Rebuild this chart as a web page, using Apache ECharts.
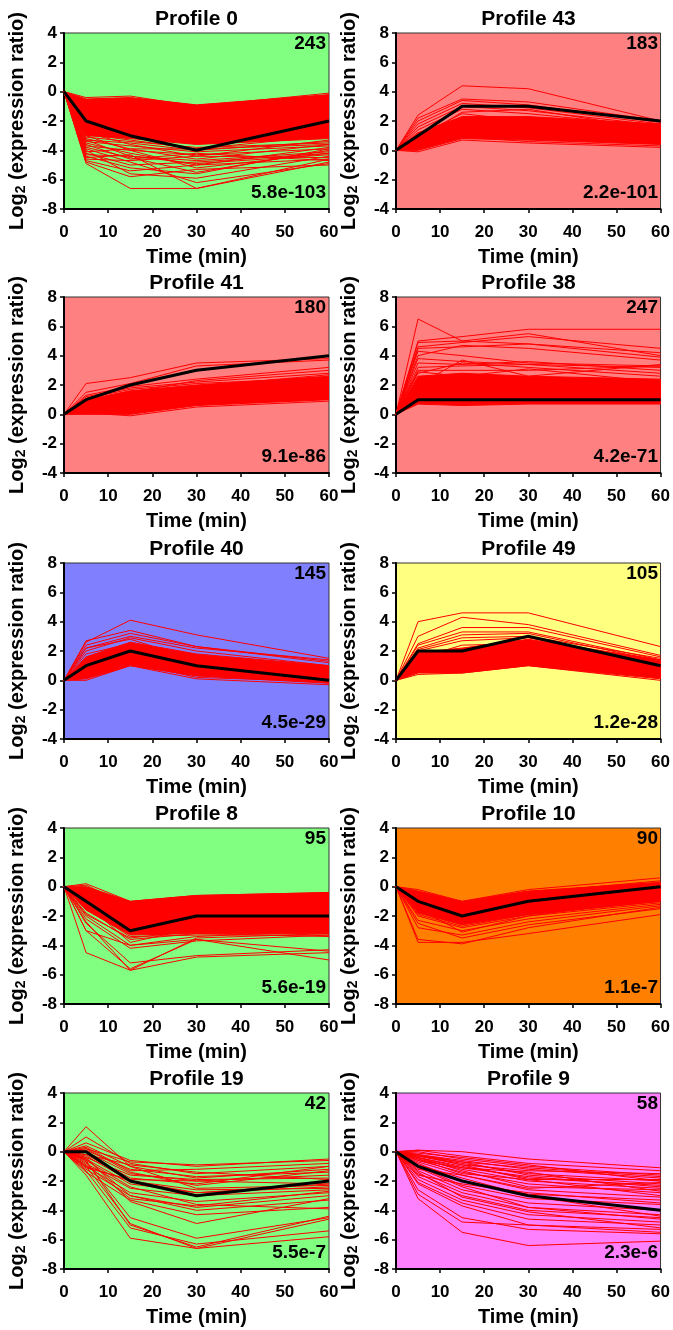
<!DOCTYPE html>
<html>
<head>
<meta charset="utf-8">
<script src="https://cdn.jsdelivr.net/npm/echarts@6/dist/echarts.min.js"></script>
<style>
html,body{margin:0;padding:0;background:#fff;}
#chart{width:673px;height:1330px;}
</style>
</head>
<body>
<div id="chart"></div>
<script>
// ---------------- DATA ----------------
const TIMES = [0, 5, 15, 30, 60];

const TITLES = ['Profile 0','Profile 43','Profile 41','Profile 38','Profile 40','Profile 49','Profile 8','Profile 10','Profile 19','Profile 9'];
const COUNTS = ['243','183','180','247','145','105','95','90','42','58'];
const PVALUES = ['5.8e-103','2.2e-101','9.1e-86','4.2e-71','4.5e-29','1.2e-28','5.6e-19','1.1e-7','5.5e-7','2.3e-6'];
const Y_MIN = [-8,-4,-4,-4,-4,-4,-8,-8,-8,-8];
const Y_MAX = [4,8,8,8,8,8,4,4,4,4];
const X_TICK_LABELS = ['0','10','20','30','40','50','60'];

// Profile 0
const P0_MODEL = [0,-2,-3,-4,-2];
const P0_CORE_LOW = [0,-3.0,-3.2,-3.6,-3.2];
const P0_CORE_HIGH = [0,-0.5,-0.4,-0.9,-0.2];
const P0_GENES = [
  [0,-4.9,-6.6,-6.6,-4.8],[0,-4.8,-5.8,-5.3,-5.0],[0,-4.5,-4.3,-6.6,-4.6],[0,-4.0,-5.6,-5.9,-4.4],
  [0,-4.2,-5.0,-4.8,-4.2],[0,-3.8,-4.5,-5.5,-4.0],[0,-3.5,-4.2,-5.0,-3.8],[0,-4.6,-4.7,-4.4,-4.5],
  [0,-3.9,-4.8,-6.2,-4.9],[0,-3.2,-3.9,-4.6,-3.6],[0,-3.0,-4.0,-5.2,-4.2],[0,-2.8,-3.6,-4.4,-3.3],
  [0,-0.4,-0.3,-1.0,-0.1],[0,-4.4,-5.2,-5.6,-3.9],[0,-3.6,-4.6,-4.2,-4.7],[0,-4.1,-3.9,-3.9,-3.6],
  [0,-3.3,-3.5,-4.0,-3.4],[0,-3.4,-3.7,-4.1,-3.7],[0,-3.7,-4.0,-4.3,-3.9],[0,-4.3,-4.4,-4.9,-4.3],
  [0,-3.1,-3.4,-3.8,-3.5],[0,-4.7,-5.4,-5.0,-4.6],[0,-3.3,-4.4,-4.7,-4.1],[0,-2.9,-3.3,-3.9,-3.0]
];
// Profile 43
const P43_MODEL = [0,1,3,3,2];
const P43_CORE_LOW = [0,0.0,0.8,0.7,0.4];
const P43_CORE_HIGH = [0,1.2,2.3,2.3,1.8];
const P43_GENES = [
  [0,2.4,4.4,4.2,2.0],[0,2.2,3.5,3.3,2.0],[0,2.0,3.4,3.1,1.9],[0,1.8,3.2,2.9,1.8],
  [0,1.6,3.0,2.7,1.7],[0,1.4,2.8,2.5,1.6],[0,-0.1,0.7,0.5,0.2],[0,0.3,0.9,0.6,0.3],
  [0,0.8,2.6,2.8,1.4],[0,1.0,2.5,2.0,1.0],[0,0.5,1.5,1.9,0.8],[0,1.2,2.0,1.0,0.6]
];
// Profile 41
const P41_MODEL = [0,1,2,3,4];
const P41_CORE_LOW = [0,0.0,0.0,0.6,1.0];
const P41_CORE_HIGH = [0,1.0,1.6,2.0,2.6];
const P41_GENES = [
  [0,2.1,2.5,3.5,3.8],[0,1.5,2.1,3.3,3.7],[0,1.3,1.9,2.4,3.2],[0,1.2,1.8,2.2,2.8],
  [0,1.1,1.7,2.1,2.5],[0,0.9,1.5,2.3,3.0],[0,0.6,1.2,1.9,2.7],[0,0.1,-0.1,0.5,0.9],
  [0,0.3,0.5,1.0,1.4],[0,0.8,1.0,1.6,2.2]
];
// Profile 38
const P38_MODEL = [0,1,1,1,1];
const P38_CORE_LOW = [0,0.7,0.6,0.7,0.7];
const P38_CORE_HIGH = [0,2.6,2.8,2.6,2.4];
const P38_GENES = [
  [0,6.5,5.0,4.8,3.9],[0,5.0,5.3,5.8,5.8],[0,4.9,5.0,5.5,4.0],[0,4.6,4.9,5.3,4.5],
  [0,4.5,4.6,4.8,4.2],[0,4.3,4.0,3.5,3.3],[0,3.8,3.6,3.4,3.2],[0,3.5,3.4,3.6,3.0],
  [0,3.2,3.3,3.4,2.8],[0,3.0,3.0,3.0,3.3],[0,2.8,3.5,3.2,2.6],[0,2.9,2.6,3.1,2.2],
  [0,4.0,4.7,4.5,3.7],[0,2.0,3.7,2.6,3.4]
];
// Profile 40
const P40_MODEL = [0,1,2,1,0];
const P40_CORE_LOW = [0,0.1,1.0,0.3,-0.2];
const P40_CORE_HIGH = [0,1.6,2.6,1.8,1.0];
const P40_GENES = [
  [0,2.6,4.1,3.1,1.5],[0,2.7,3.4,2.3,1.3],[0,2.4,3.2,2.3,1.2],[0,2.2,3.0,2.2,1.4],
  [0,2.0,2.9,2.0,1.0],[0,1.8,2.5,1.6,0.9],[0,0.0,1.0,0.1,-0.3],[0,0.4,1.2,0.2,-0.1],
  [0,2.2,2.8,1.4,0.6],[0,1.2,2.2,0.8,0.2]
];
// Profile 49
const P49_MODEL = [0,2,2,3,1];
const P49_CORE_LOW = [0,0.5,0.5,1.0,0.1];
const P49_CORE_HIGH = [0,1.9,2.2,2.8,1.4];
const P49_GENES = [
  [0,4.0,4.6,4.6,2.3],[0,3.0,4.3,3.8,1.7],[0,2.5,3.6,3.6,1.6],[0,2.4,3.3,3.3,1.4],
  [0,2.2,3.1,3.2,1.3],[0,2.1,2.9,3.0,1.5],[0,2.0,2.7,2.9,1.2],[0,0.4,0.5,1.0,0.0],
  [0,1.0,0.7,1.9,0.3],[0,1.5,2.4,2.5,0.9],[0,0.9,1.3,1.6,0.6]
];
// Profile 8
const P8_MODEL = [0,-1,-3,-2,-2];
const P8_CORE_LOW = [0,-1.6,-3.3,-3.2,-3.2];
const P8_CORE_HIGH = [0,0.0,-1.0,-0.6,-0.4];
const P8_GENES = [
  [0,-4.5,-5.7,-4.8,-4.5],[0,-3.0,-4.0,-3.6,-5.0],[0,-2.5,-5.2,-4.7,-4.3],[0,-2.4,-5.7,-3.5,-3.2],
  [0,-2.2,-4.2,-3.7,-3.3],[0,-2.0,-4.0,-3.4,-3.0],[0,0.2,-1.0,-0.6,-0.4],[0,0.1,-1.3,-0.8,-0.7],
  [0,-1.2,-3.8,-2.8,-2.8],[0,-1.8,-3.6,-3.2,-3.4],[0,-3.0,-5.6,-3.6,-4.4],
  [0,-1.5,-3.4,-3.3,-3.3],[0,-1.9,-3.5,-3.0,-2.9],[0,-0.8,-2.8,-2.4,-2.6]
];
// Profile 10
const P10_MODEL = [0,-1,-2,-1,0];
const P10_CORE_LOW = [0,-1.8,-2.6,-1.9,-1.0];
const P10_CORE_HIGH = [0,-0.3,-1.0,-0.3,0.3];
const P10_GENES = [
  [0,-3.8,-3.8,-3.2,-1.9],[0,-3.6,-3.9,-2.8,-1.4],[0,-2.8,-3.3,-2.4,-1.3],[0,-2.5,-3.5,-2.6,-1.5],
  [0,-2.3,-3.0,-2.2,-1.2],[0,-2.0,-2.8,-2.0,-1.1],[0,-0.2,-1.0,-0.2,0.6],[0,-0.5,-1.2,-0.4,0.4],
  [0,-1.5,-3.1,-2.0,-0.8],[0,-1.9,-2.7,-1.9,-1.0],[0,-1.4,-2.4,-1.6,-0.6]
];
// Profile 19
const P19_MODEL = [0,0,-2,-3,-2];
const P19_GENES = [
  [0,1.7,-1.0,-2.5,-2.3],[0,1.0,-0.8,-1.5,-1.0],[0,0.6,-0.6,-1.0,-0.5],[0,0.4,-1.0,-1.8,-1.2],
  [0,0.2,-0.7,-0.9,-0.6],[0,0.1,-1.2,-1.7,-1.4],[0,0.0,-1.5,-2.0,-1.6],[0,-0.2,-1.8,-2.2,-1.0],
  [0,-0.3,-2.0,-2.6,-2.5],[0,-0.5,-2.2,-2.8,-2.2],[0,-0.8,-2.5,-3.0,-2.6],[0,-1.0,-2.8,-3.4,-2.8],
  [0,-1.2,-3.0,-3.8,-3.0],[0,-1.4,-3.3,-4.3,-3.8],[0,-0.4,-3.4,-4.9,-3.2],[0,-0.7,-4.5,-5.9,-4.5],
  [0,-1.0,-4.9,-6.6,-4.6],[0,-1.3,-5.2,-6.3,-5.4],[0,-1.6,-5.9,-6.6,-5.8],[0,-0.6,-5.0,-6.5,-4.4],
  [0,-1.0,-2.0,-2.8,-2.4],[0,0.3,-1.3,-1.2,-0.8],[0,-0.4,-1.6,-1.9,-1.8],[0,-0.6,-2.4,-3.6,-3.9],
  [0,-1.1,-1.9,-2.0,-2.2],[0,-0.2,-0.9,-1.4,-1.9],[0,-0.9,-3.2,-3.7,-2.7],[0,0.2,-1.4,-2.3,-1.3],
  [0,-0.5,-3.0,-4.0,-3.3]
];
// Profile 9
const P9_MODEL = [0,-1,-2,-3,-4];
const P9_GENES = [
  [0,0.1,0.0,-0.5,-1.1],[0,0.1,-0.3,-0.8,-1.3],[0,0.0,-0.5,-1.0,-1.6],[0,-0.2,-0.6,-1.2,-1.8],
  [0,-0.3,-0.8,-1.5,-2.0],[0,-0.4,-1.0,-1.8,-2.3],[0,-0.5,-1.2,-2.0,-2.5],[0,-0.6,-1.4,-2.2,-2.8],
  [0,-0.2,-0.9,-1.9,-3.0],[0,-0.7,-1.6,-2.6,-3.1],[0,-1.2,-1.6,-2.5,-2.1],[0,-0.8,-2.0,-2.9,-3.3],
  [0,-1.0,-2.3,-3.2,-3.6],[0,-1.3,-2.6,-3.5,-4.0],[0,-1.5,-2.8,-3.8,-4.3],[0,-1.7,-3.0,-4.0,-4.5],
  [0,-1.9,-3.3,-4.3,-4.8],[0,-2.1,-3.5,-4.6,-5.0],[0,-2.2,-3.7,-5.0,-5.3],[0,-2.6,-4.5,-5.3,-5.6],
  [0,-2.9,-4.8,-5.0,-5.5],[0,-3.2,-5.5,-6.4,-6.1],[0,-1.6,-2.2,-2.8,-3.5],[0,-0.4,-1.3,-2.4,-2.6],
  [0,-0.9,-1.8,-3.0,-4.4],[0,-0.3,-0.7,-1.6,-2.2],[0,-1.1,-2.4,-3.8,-4.6],[0,-0.5,-1.5,-1.9,-1.9],
  [0,-0.1,-0.4,-0.9,-2.0],[0,-1.4,-3.1,-4.1,-5.2],[0,-0.3,-0.9,-1.3,-1.5],[0,-0.6,-1.1,-1.7,-2.4],
  [0,-0.2,-0.7,-1.1,-1.7],[0,-0.4,-1.1,-1.4,-2.7]
];

const MODELS = [P0_MODEL,P43_MODEL,P41_MODEL,P38_MODEL,P40_MODEL,P49_MODEL,P8_MODEL,P10_MODEL,P19_MODEL,P9_MODEL];
const CORE_LOWS = [P0_CORE_LOW,P43_CORE_LOW,P41_CORE_LOW,P38_CORE_LOW,P40_CORE_LOW,P49_CORE_LOW,P8_CORE_LOW,P10_CORE_LOW,null,null];
const CORE_HIGHS = [P0_CORE_HIGH,P43_CORE_HIGH,P41_CORE_HIGH,P38_CORE_HIGH,P40_CORE_HIGH,P49_CORE_HIGH,P8_CORE_HIGH,P10_CORE_HIGH,null,null];
const GENES = [P0_GENES,P43_GENES,P41_GENES,P38_GENES,P40_GENES,P49_GENES,P8_GENES,P10_GENES,P19_GENES,P9_GENES];

// ---------------- STYLE / LAYOUT ----------------
const BG_COLORS = ['#80FF80','#FF8080','#FF8080','#FF8080','#8080FF','#FFFF80','#80FF80','#FF8000','#80FF80','#FF80FF'];
const FONT = "'Liberation Sans', Arial, sans-serif";
const COL_LEFT = [64, 396];
const ROW_TOP = [33, 297, 563, 828, 1093];
const PLOT_W = 265;
const PLOT_H = 176;

const grids = [], xAxes = [], yAxes = [], series = [], graphics = [];

TITLES.forEach((title, i) => {
  const col = i % 2, row = Math.floor(i / 2);
  const left = COL_LEFT[col], top = ROW_TOP[row];
  grids.push({
    left: left, top: top, width: PLOT_W, height: PLOT_H,
    show: true, backgroundColor: BG_COLORS[i], borderColor: '#333', borderWidth: 1
  });
  xAxes.push({
    type: 'value', gridIndex: i, min: 0, max: 60, interval: 10,
    name: 'Time (min)', nameLocation: 'middle', nameGap: 38,
    nameTextStyle: { fontFamily: FONT, fontWeight: 'bold', fontSize: 20, color: '#000' },
    axisLine: { show: true, onZero: false, lineStyle: { color: '#000', width: 2 } },
    axisTick: { show: true, length: 4, inside: false, lineStyle: { color: '#000', width: 1.5 } },
    axisLabel: { margin: 15, fontFamily: FONT, fontWeight: 'bold', fontSize: 17, color: '#000',
      formatter: v => X_TICK_LABELS[Math.round(v / 10)] },
    splitLine: { show: false }
  });
  yAxes.push({
    type: 'value', gridIndex: i, min: Y_MIN[i], max: Y_MAX[i], interval: 2,
    name: '{a|Log}{b|2}{a| (expression ratio)}', nameLocation: 'middle', nameGap: 36, nameRotate: 90,
    nameTextStyle: { color: '#000', rich: {
      a: { fontFamily: FONT, fontWeight: 'bold', fontSize: 20, color: '#000', lineHeight: 22 },
      b: { fontFamily: FONT, fontWeight: 'bold', fontSize: 14, color: '#000', lineHeight: 14, verticalAlign: 'bottom', padding: [10, 0, 0, 0] }
    } },
    axisLine: { show: true, onZero: false, lineStyle: { color: '#000', width: 2 } },
    axisTick: { show: true, length: 4, inside: false, lineStyle: { color: '#000', width: 1.5 } },
    axisLabel: { margin: 7, fontFamily: FONT, fontWeight: 'bold', fontSize: 17, color: '#000' },
    splitLine: { show: false }
  });

  const pts = arr => TIMES.map((t, k) => [t, arr[k]]);
  const low = CORE_LOWS[i], high = CORE_HIGHS[i];
  if (low && high) {
    const bandData = TIMES.map((t, k) => [t, low[k], high[k]]);
    series.push({
      type: 'custom', xAxisIndex: i, yAxisIndex: i, data: bandData, silent: true, clip: true, z: 2,
      encode: { x: 0, y: [1, 2] },
      renderItem: (params, api) => {
        if (params.dataIndex !== 0) return null;
        const lowerPts = bandData.map(d => api.coord([d[0], d[1]]));
        const upperPts = bandData.map(d => api.coord([d[0], d[2]])).reverse();
        return {
          type: 'polygon',
          shape: { points: lowerPts.concat(upperPts) },
          style: { fill: '#FF0000', stroke: '#FF0000', lineWidth: 1 }
        };
      }
    });
  }
  GENES[i].forEach(g => {
    series.push({
      type: 'line', xAxisIndex: i, yAxisIndex: i, data: pts(g),
      symbol: 'none', silent: true, lineStyle: { color: '#FF0000', width: 1 }, z: 3
    });
  });
  series.push({
    type: 'line', xAxisIndex: i, yAxisIndex: i, data: pts(MODELS[i]),
    symbol: 'none', silent: true, lineStyle: { color: '#000', width: 3 }, z: 5
  });

  graphics.push({
    type: 'text', x: left + PLOT_W / 2, y: top - 14, z: 100,
    style: { text: title, font: 'bold 21px ' + FONT, fill: '#000', align: 'center', verticalAlign: 'middle' }
  });
  graphics.push({
    type: 'text', x: left + PLOT_W - 3, y: top + 11, z: 100,
    style: { text: COUNTS[i], font: 'bold 19px ' + FONT, fill: '#000', align: 'right', verticalAlign: 'middle' }
  });
  graphics.push({
    type: 'text', x: left + PLOT_W - 3, y: top + PLOT_H - 16, z: 100,
    style: { text: PVALUES[i], font: 'bold 19px ' + FONT, fill: '#000', align: 'right', verticalAlign: 'middle' }
  });
});

const chart = echarts.init(document.getElementById('chart'), null, { renderer: 'canvas' });
chart.setOption({
  animation: false,
  backgroundColor: '#fff',
  grid: grids, xAxis: xAxes, yAxis: yAxes, series: series, graphic: graphics
});
</script>
</body>
</html>
